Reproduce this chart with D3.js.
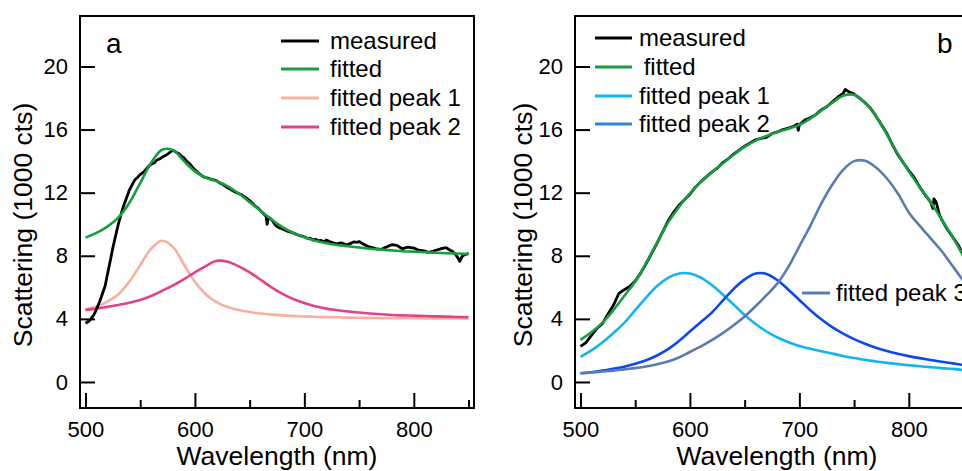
<!DOCTYPE html>
<html>
<head>
<meta charset="utf-8">
<script src="https://cdn.jsdelivr.net/npm/d3@7"></script>
<style>
  body { margin: 0; background: #fff; }
  svg { display: block; font-family: "Liberation Sans", Arial, sans-serif; }
</style>
</head>
<body>
<div id="chart"></div>
<script>
// wavelengths (nm) of the fitted curves
const wlFit = [500, 510, 520, 530, 540, 550, 560, 570, 580, 590, 600, 610, 620, 630, 640, 650, 660, 670,
  680, 690, 700, 710, 720, 730, 740, 750, 760, 770, 780, 790, 800, 810, 820, 830, 840, 850];

// panel a (1000 cts)
const fitA = [9.15, 9.45, 9.85, 10.42, 11.35, 12.6, 13.9, 14.72, 14.7, 14.0, 13.35, 12.95, 12.72, 12.4,
  11.95, 11.4, 10.85, 10.3, 9.82, 9.45, 9.17, 8.95, 8.8, 8.68, 8.6, 8.52, 8.45, 8.39, 8.34, 8.29, 8.26,
  8.22, 8.19, 8.16, 8.14, 8.12];
const peak1A = [4.6, 4.78, 5.1, 5.55, 6.35, 7.4, 8.45, 8.95, 8.55, 7.45, 6.35, 5.55, 5.05, 4.75, 4.56,
  4.43, 4.34, 4.27, 4.22, 4.18, 4.15, 4.13, 4.11, 4.1, 4.08, 4.07, 4.06, 4.05, 4.05, 4.04, 4.04, 4.03,
  4.03, 4.02, 4.02, 4.02];
const peak2A = [4.57, 4.65, 4.76, 4.88, 5.02, 5.2, 5.45, 5.78, 6.12, 6.52, 6.95, 7.35, 7.68, 7.62, 7.33,
  6.95, 6.48, 6.0, 5.58, 5.25, 5.0, 4.8, 4.65, 4.55, 4.47, 4.4, 4.34, 4.29, 4.25, 4.22, 4.2, 4.18, 4.16,
  4.14, 4.12, 4.1];
const measWlA = [500, 503, 505, 508, 510, 513, 515, 518, 520, 523, 525, 528, 530, 533, 535, 538, 540, 543,
  545, 548, 550, 553, 555, 558, 560, 563, 565, 568, 570, 573, 575, 578, 580, 583, 585, 588, 590, 593,
  595, 598, 600, 603, 605, 608, 610, 613, 615, 618, 620, 623, 625, 628, 630, 633, 635, 638, 640, 643,
  645, 648, 650, 653, 655, 658, 660, 663, 665, 666, 667, 670, 673, 675, 678, 680, 683, 685, 688, 690,
  693, 695, 698, 700, 703, 705, 708, 710, 713, 715, 718, 720, 723, 725, 728, 730, 733, 735, 738, 740,
  743, 745, 748, 750, 753, 755, 758, 760, 763, 765, 768, 770, 773, 775, 778, 780, 783, 785, 788, 790,
  793, 795, 798, 800, 803, 805, 808, 810, 813, 815, 818, 820, 823, 825, 828, 830, 833, 835, 838, 840,
  842, 844, 846, 848, 850];
const measA = [3.72, 3.85, 4.0, 4.3, 4.6, 5.1, 5.5, 6.1, 6.8, 7.8, 8.5, 9.4, 10.0, 10.75, 11.2, 11.75,
  12.15, 12.55, 12.8, 13.0, 13.15, 13.3, 13.45, 13.7, 13.8, 13.9, 14.05, 14.15, 14.25, 14.35, 14.45,
  14.6, 14.7, 14.55, 14.5, 14.3, 14.2, 13.95, 13.85, 13.6, 13.45, 13.25, 13.15, 13.0, 12.95, 12.9,
  12.85, 12.8, 12.75, 12.6, 12.55, 12.4, 12.3, 12.2, 12.1, 12.0, 11.95, 11.85, 11.75, 11.6, 11.5, 11.3,
  11.15, 11.0, 10.85, 10.65, 10.5, 10.0, 10.45, 10.3, 10.0, 9.85, 9.75, 9.7, 9.6, 9.55, 9.5, 9.45, 9.35,
  9.3, 9.25, 9.2, 9.1, 9.12, 9.0, 9.05, 8.95, 8.98, 8.88, 9.0, 8.9, 8.85, 8.78, 8.75, 8.82, 8.8, 8.7,
  8.72, 8.8, 8.88, 8.85, 8.9, 8.78, 8.7, 8.6, 8.55, 8.5, 8.45, 8.42, 8.4, 8.5, 8.55, 8.65, 8.7, 8.68,
  8.65, 8.5, 8.45, 8.52, 8.55, 8.5, 8.5, 8.4, 8.35, 8.32, 8.3, 8.22, 8.25, 8.3, 8.35, 8.4, 8.45, 8.5,
  8.5, 8.35, 8.3, 8.1, 7.9, 7.65, 7.95, 8.05, 8.1, 8.15];

// panel b (1000 cts)
const fitB = [2.67, 3.15, 3.75, 4.55, 5.45, 6.37, 7.55, 8.85, 10.1, 11.1, 11.95, 12.7, 13.3, 13.85, 14.4,
  14.9, 15.3, 15.6, 15.85, 16.05, 16.3, 16.7, 17.2, 17.7, 18.15, 18.2, 17.7, 16.85, 15.7, 14.45, 13.35,
  12.35, 11.4, 10.3, 9.2, 7.95];
const peak1B = [1.59, 2.0, 2.5, 3.1, 3.75, 4.55, 5.35, 6.08, 6.6, 6.88, 6.88, 6.62, 6.15, 5.55, 4.9, 4.25,
  3.68, 3.2, 2.82, 2.52, 2.28, 2.1, 1.95, 1.8, 1.65, 1.52, 1.4, 1.3, 1.21, 1.13, 1.06, 1.0, 0.94, 0.88,
  0.83, 0.76];
const peak2B = [0.55, 0.62, 0.72, 0.84, 0.97, 1.15, 1.38, 1.68, 2.08, 2.6, 3.2, 3.8, 4.4, 5.15, 5.9, 6.5,
  6.88, 6.85, 6.45, 5.85, 5.2, 4.55, 3.98, 3.48, 3.07, 2.72, 2.42, 2.17, 1.96, 1.79, 1.64, 1.51, 1.39,
  1.28, 1.18, 1.08];
const peak3B = [0.55, 0.6, 0.66, 0.72, 0.8, 0.88, 0.98, 1.12, 1.3, 1.55, 1.9, 2.25, 2.65, 3.1, 3.6, 4.15,
  4.8, 5.5, 6.25, 7.3, 8.6, 9.9, 11.3, 12.5, 13.45, 14.0, 14.02, 13.6, 12.9, 11.95, 10.75, 9.9, 9.1,
  8.3, 7.35, 6.4];
const measWlB = [500, 505, 510, 515, 520, 525, 530, 535, 540, 545, 550, 555, 560, 565, 570, 575, 580,
  585, 590, 595, 600, 605, 610, 615, 620, 625, 630, 635, 640, 645, 650, 655, 660, 665, 670, 675, 680,
  685, 690, 695, 698, 699, 700, 705, 710, 715, 720, 725, 730, 735, 740, 742, 745, 750, 755, 760, 765,
  770, 775, 780, 785, 790, 795, 800, 805, 810, 815, 820, 822, 823, 825, 828, 830, 835, 840, 845, 850];
const measB = [2.25, 2.5, 2.95, 3.4, 3.7, 4.3, 4.85, 5.6, 5.85, 6.05, 6.4, 6.9, 7.5, 8.15, 8.8, 9.5, 10.2,
  10.75, 11.2, 11.55, 11.9, 12.35, 12.7, 13.0, 13.3, 13.55, 13.9, 14.15, 14.45, 14.7, 14.95, 15.15,
  15.35, 15.45, 15.5, 15.75, 15.85, 16.0, 16.1, 16.2, 16.35, 15.95, 16.3, 16.6, 16.75, 16.95, 17.25,
  17.45, 17.75, 18.05, 18.3, 18.55, 18.4, 18.25, 18.0, 17.7, 17.35, 16.85, 16.3, 15.75, 15.05, 14.4,
  13.9, 13.4, 12.95, 12.35, 11.85, 11.4, 11.0, 11.6, 11.4, 10.6, 10.3, 9.7, 9.2, 8.7, 8.0];

const yTicks = [0, 4, 8, 12, 16, 20];
const xTicks = [500, 600, 700, 800];
const xMinor = [550, 650, 750, 850];

const W = 962, H = 471;
const svg = d3.select("#chart").append("svg").attr("width", W).attr("height", H);

function drawPanel(cfg) {
  const x = d3.scaleLinear().domain([495, 855]).range([cfg.left, cfg.left + 394]);
  const y = d3.scaleLinear().domain([-1.65, 23.2]).range([408, 16]);
  const g = svg.append("g");

  g.append("clipPath").attr("id", cfg.id).append("rect")
    .attr("x", cfg.left).attr("y", 16).attr("width", 394).attr("height", 392);

  const plot = g.append("g").attr("clip-path", `url(#${cfg.id})`);
  const smooth = d3.line().x(d => x(d[0])).y(d => y(d[1])).curve(d3.curveCatmullRom.alpha(0.5));
  const raw = d3.line().x(d => x(d[0])).y(d => y(d[1]));

  cfg.peaks.forEach(p => {
    plot.append("path").datum(d3.zip(wlFit, p.values))
      .attr("d", smooth).attr("fill", "none").attr("stroke", p.color).attr("stroke-width", 2.6);
  });
  plot.append("path").datum(d3.zip(cfg.measWl, cfg.meas))
    .attr("d", raw).attr("fill", "none").attr("stroke", "#000").attr("stroke-width", 2.8)
    .attr("stroke-linejoin", "round");
  plot.append("path").datum(d3.zip(wlFit, cfg.fit))
    .attr("d", smooth).attr("fill", "none").attr("stroke", "#14a03c").attr("stroke-width", 2.6);

  // frame
  g.append("rect").attr("x", cfg.left).attr("y", 16).attr("width", 394).attr("height", 392)
    .attr("fill", "none").attr("stroke", "#000").attr("stroke-width", 2);

  const yAx = g.append("g").attr("transform", `translate(${cfg.left},0)`)
    .call(d3.axisLeft(y).tickValues(yTicks).tickSize(-15).tickPadding(12));
  const xAx = g.append("g").attr("transform", "translate(0,408)")
    .call(d3.axisBottom(x).tickValues(xTicks).tickSize(-15).tickPadding(13));
  const xMin = g.append("g").attr("transform", "translate(0,408)")
    .call(d3.axisBottom(x).tickValues(xMinor).tickSize(-8).tickFormat(""));
  [yAx, xAx, xMin].forEach(a => {
    a.select(".domain").remove();
    a.selectAll("line").attr("stroke", "#000").attr("stroke-width", 2);
    a.selectAll("text").attr("fill", "#000").attr("font-size", 22)
      .attr("font-family", "'Liberation Sans', Arial, sans-serif");
  });

  g.append("text").attr("transform", `translate(${cfg.yLabelX},225) rotate(-90)`)
    .attr("text-anchor", "middle").attr("font-size", 26.5).text("Scattering (1000 cts)");
  g.append("text").attr("x", cfg.xLabelX).attr("y", 465)
    .attr("text-anchor", "middle").attr("font-size", 26.5).text("Wavelength (nm)");

  g.append("text").attr("x", cfg.tagX).attr("y", 53).attr("font-size", 28).text(cfg.tag);

  cfg.legend.forEach(l => {
    g.append("line").attr("x1", l.x1).attr("x2", l.x2).attr("y1", l.y).attr("y2", l.y)
      .attr("stroke", l.color).attr("stroke-width", 3);
    g.append("text").attr("x", l.tx).attr("y", l.y).attr("dy", "0.33em")
      .attr("font-size", 24).style("white-space", "pre").text(l.label);
  });
}

drawPanel({
  id: "clipA", left: 80, tag: "a", tagX: 106, yLabelX: 32, xLabelX: 277,
  fit: fitA, measWl: measWlA, meas: measA,
  peaks: [{ values: peak1A, color: "#f9ae9e" }, { values: peak2A, color: "#e2428a" }],
  legend: [
    { label: "measured", color: "#000", x1: 281, x2: 319, tx: 330, y: 41 },
    { label: "fitted", color: "#14a03c", x1: 281, x2: 319, tx: 330, y: 69 },
    { label: "fitted peak 1", color: "#f9ae9e", x1: 281, x2: 319, tx: 330, y: 98 },
    { label: "fitted peak 2", color: "#e2428a", x1: 281, x2: 319, tx: 330, y: 127 }
  ]
});

drawPanel({
  id: "clipB", left: 575, tag: "b", tagX: 937, yLabelX: 532, xLabelX: 777,
  fit: fitB, measWl: measWlB, meas: measB,
  peaks: [{ values: peak1B, color: "#14b4f4" }, { values: peak2B, color: "#0c48f2" },
          { values: peak3B, color: "#5a7cb0" }],
  legend: [
    { label: "measured", color: "#000", x1: 595, x2: 632, tx: 639, y: 38 },
    { label: " fitted", color: "#14a03c", x1: 595, x2: 632, tx: 637, y: 67 },
    { label: "fitted peak 1", color: "#14b4f4", x1: 595, x2: 632, tx: 639, y: 96 },
    { label: "fitted peak 2", color: "#3282e4", x1: 595, x2: 632, tx: 639, y: 124 },
    { label: "fitted peak 3", color: "#5a7cb0", x1: 802, x2: 830, tx: 836, y: 293 }
  ]
});
</script>
</body>
</html>
